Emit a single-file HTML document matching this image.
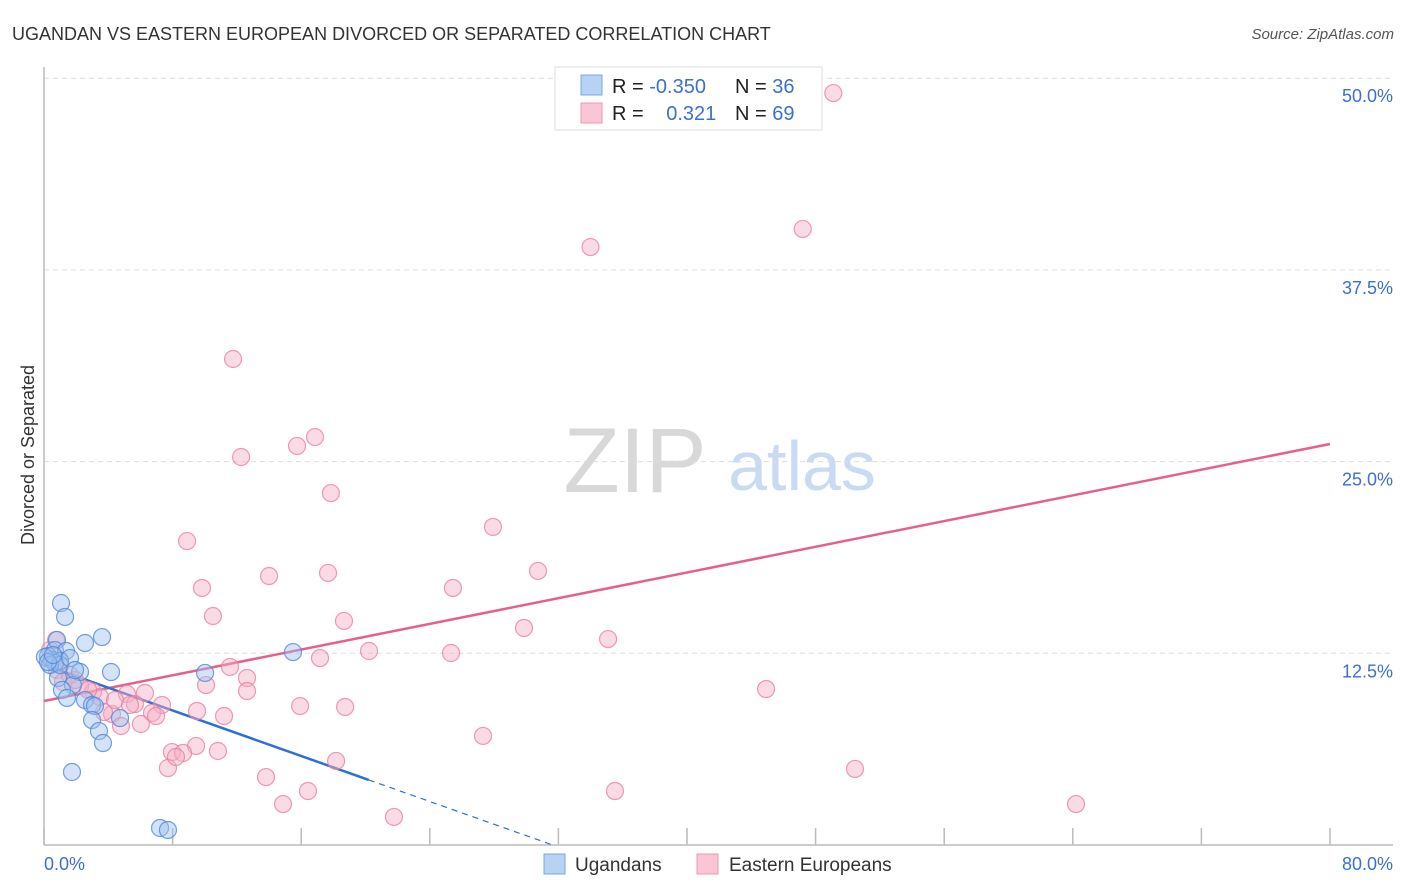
<!DOCTYPE html>
<html><head><meta charset="utf-8"><style>
body{margin:0;background:#fff;font-family:"Liberation Sans",sans-serif;}
#wrap{position:relative;width:1406px;height:892px;overflow:hidden;}
svg text{font-family:"Liberation Sans",sans-serif;}
</style></head><body>
<div id="wrap">
<svg id="chart" width="1406" height="892" xmlns="http://www.w3.org/2000/svg">
<text x="12" y="40" font-size="18" fill="#333">UGANDAN VS EASTERN EUROPEAN DIVORCED OR SEPARATED CORRELATION CHART</text>
<text x="1394" y="39" font-size="15" fill="#555" font-style="italic" text-anchor="end">Source: ZipAtlas.com</text>
<g>
<text x="635" y="492" font-size="92" fill="#d8d8d8" text-anchor="middle" font-family="Liberation Serif">ZIP</text>
<text x="802" y="490" font-size="70" fill="#c9daf3" text-anchor="middle">atlas</text>
</g>
<g id="grid"></g>
<g id="axes"></g>
<g id="lines"></g>
<g id="pts"></g>
<text x="34" y="455" font-size="18" fill="#333" text-anchor="middle" transform="rotate(-90 34 455)">Divorced or Separated</text>
<g>
<rect x="555" y="67" width="267" height="63" fill="#fff" stroke="#ddd"/>
<rect x="581" y="75" width="21" height="20" fill="#b8d2f4" stroke="#7aa7e6"/>
<rect x="581" y="103" width="21" height="20" fill="#f9c6d6" stroke="#eb98b3"/>
<text x="612" y="93" font-size="20" fill="#222">R = <tspan fill="#3a70d0">-0.350</tspan></text>
<text x="735" y="93" font-size="20" fill="#222">N = <tspan fill="#3a70d0">36</tspan></text>
<text x="612" y="120" font-size="20" fill="#222">R = <tspan fill="#3a70d0" dx="17">0.321</tspan></text>
<text x="735" y="120" font-size="20" fill="#222">N = <tspan fill="#3a70d0">69</tspan></text>
</g>
<g>
<rect x="544" y="854" width="21" height="20" fill="#b8d2f4" stroke="#7aa7e6"/>
<text x="575" y="871" font-size="19" fill="#333">Ugandans</text>
<rect x="697" y="854" width="21" height="20" fill="#f9c6d6" stroke="#eb98b3"/>
<text x="729" y="871" font-size="19" fill="#333">Eastern Europeans</text>
</g>
</svg>
</div>
<script>
const NS="http://www.w3.org/2000/svg";
const blueX=[1.06,1.31,3.61,2.55,0.81,0.68,1.37,0.25,0.5,1.0,0.06,2.24,4.17,0.87,1.8,1.12,1.43,2.55,2.99,3.17,4.73,2.99,3.42,3.67,1.74,7.22,7.71,10.02,15.49,0.68,0.37,1.0,0.25,0.56,1.62,1.93];
const blueY=[15.78,14.87,13.56,13.17,13.37,12.71,12.65,12.32,12.06,12.0,12.26,11.28,11.28,10.89,10.43,10.11,9.59,9.45,9.13,9.06,8.28,8.15,7.43,6.65,4.76,1.11,0.98,11.22,12.58,11.87,11.74,11.74,11.93,12.39,12.19,11.41];
const pinkX=[49.1,34.0,47.2,11.76,12.26,15.74,16.86,17.85,27.93,8.9,30.73,14.0,17.67,9.83,25.44,10.51,18.66,29.86,35.09,0.75,20.22,25.32,17.17,11.57,12.63,10.08,44.92,12.63,0.81,1.18,2.24,3.05,3.48,5.16,6.28,5.66,7.34,9.52,11.2,15.93,18.73,6.72,4.23,4.79,6.03,27.31,9.46,7.96,8.65,10.82,18.17,7.71,13.81,50.45,16.42,35.52,14.87,64.2,21.77,8.21,3.73,1.0,1.62,2.74,4.42,0.37,5.35,6.97,1.93];
const pinkY=[49.03,38.99,40.17,31.69,25.3,26.02,26.6,22.95,20.74,19.82,17.87,17.54,17.74,16.76,16.76,14.93,14.61,14.15,13.43,13.37,12.65,12.52,12.19,11.61,10.89,10.43,10.17,10.04,11.41,10.63,10.37,9.98,9.65,9.85,9.91,9.19,9.13,8.74,8.41,9.06,9.0,8.61,8.54,7.76,7.89,7.11,6.46,6.06,6.0,6.13,5.48,5.02,4.43,4.96,3.52,3.52,2.67,2.67,1.83,5.74,8.67,12.06,11.08,10.11,9.45,12.71,9.13,8.41,10.76];
const yTicks=[12.5,25,37.5,50];
const yTickLabels=["12.5%","25.0%","37.5%","50.0%"];
const xTicks=[0,8,16,24,32,40,48,56,64,72,80];
const xEndLabels=["0.0%","80.0%"];
const pinkTrend=[9.39,26.15];
const blueTrend=[11.74,-0.371,20.2];
const X0=44,X1=1330,Y0=845,YPER=191.7/12.5;
const sx=v=>X0+(X1-X0)*v/80, sy=v=>Y0-v*YPER;
function mk(tag,attrs,parent){const e=document.createElementNS(NS,tag);for(const k in attrs)e.setAttribute(k,attrs[k]);parent.appendChild(e);return e;}
const grid=document.getElementById('grid'),axes=document.getElementById('axes'),lines=document.getElementById('lines'),pts=document.getElementById('pts');
yTicks.forEach((t,i)=>{
 const l=mk('line',{x1:X0,x2:1393,y1:sy(t),y2:sy(t),stroke:'#ddd','stroke-dasharray':'5,4'},grid);
 
 
 const tx=mk('text',{x:1393,y:sy(t)+24,'font-size':18,fill:'#3a70d0','text-anchor':'end'},grid);
 tx.textContent=yTickLabels[i];
 
 
});
const ya=mk('line',{x1:X0,x2:X0,y1:67,y2:Y0,stroke:'#bbb','stroke-width':1.5},axes);


const xa=mk('line',{x1:X0,x2:1393,y1:Y0,y2:Y0,stroke:'#bbb','stroke-width':1.5},axes);


xTicks.forEach(t=>{
 const l=mk('line',{x1:sx(t),x2:sx(t),y1:Y0,y2:Y0-17,stroke:'#bbb','stroke-width':1.5},axes);
 
 
});
const xl0=mk('text',{x:X0,y:870,'font-size':18,fill:'#3a70d0'},axes);xl0.textContent=xEndLabels[0];


const xl1=mk('text',{x:1393,y:870,'font-size':18,fill:'#3a70d0','text-anchor':'end'},axes);xl1.textContent=xEndLabels[1];


function pt(x,y,fill,stroke,name){const c=mk('circle',{cx:sx(x),cy:sy(y),r:8.5,fill:fill,'fill-opacity':0.45,stroke:stroke,'stroke-width':1.2,'stroke-opacity':0.8},pts);
 
 }
pinkX.forEach((x,i)=>pt(x,pinkY[i],'#f4b0c6','#e8829f','point-eastern-european'));
blueX.forEach((x,i)=>pt(x,blueY[i],'#9fc0ee','#4f88dc','point-ugandan'));
const pl=mk('line',{x1:sx(0),y1:sy(pinkTrend[0]),x2:sx(80),y2:sy(pinkTrend[1]),stroke:'#e5608a','stroke-width':2.5},lines);


const bEnd=blueTrend[0]+blueTrend[1]*blueTrend[2];
const bl=mk('line',{x1:sx(0),y1:sy(blueTrend[0]),x2:sx(blueTrend[2]),y2:sy(bEnd),stroke:'#2f6fd6','stroke-width':2.5},lines);


const zx=-blueTrend[0]/blueTrend[1];
const bd=mk('line',{x1:sx(blueTrend[2]),y1:sy(bEnd),x2:sx(zx),y2:sy(0),stroke:'#2f6fd6','stroke-width':1.2,'stroke-dasharray':'6,5'},lines);


</script>
</body></html>
